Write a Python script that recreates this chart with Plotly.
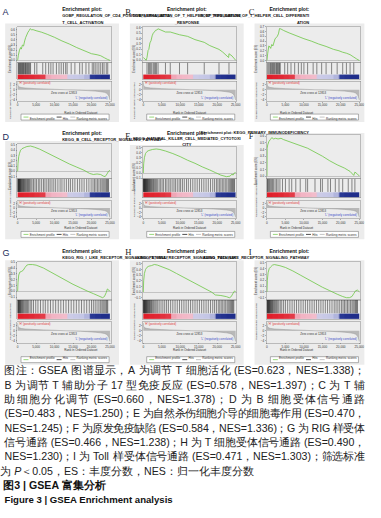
import plotly.graph_objects as go

W, H = 381, 518
S = 4  # render at 4x, then scale the page by 1/4 so tiny fonts are not clamped

# ---------------- data ----------------
panel_letters = ["A", "B", "C", "D", "E", "F", "G", "H", "I"]

title_a = ["Enrichment plot:", "GOBP_REGULATION_OF_CD4_POSITIVE_ALPHA_BETA_", "T_CELL_ACTIVATION"]
title_b = ["Enrichment plot:", "GOBP_REGULATION_OF_T_HELPER_17_TYPE_IMMUNE", "_RESPONSE"]
title_c = ["Enrichment plot:", "GOBP_REGULATION_OF_T_HELPER_CELL_DIFFERENTI", "ATION"]
title_d = ["Enrichment plot:", "KEGG_B_CELL_RECEPTOR_SIGNALING_PATHWAY"]
title_e = ["Enrichment plot:", "KEGG_NATURAL_KILLER_CELL_MEDIATED_CYTOTOXI", "CITY"]
title_f = ["Enrichment plot: KEGG_PRIMARY_IMMUNODEFICIENCY"]
title_g = ["Enrichment plot:", "KEGG_RIG_I_LIKE_RECEPTOR_SIGNALING_PATHWAY"]
title_h = ["Enrichment plot:", "KEGG_T_CELL_RECEPTOR_SIGNALING_PATHWAY"]
title_i = ["Enrichment plot:", "KEGG_TOLL_LIKE_RECEPTOR_SIGNALING_PATHWAY"]

rank_ticks = [0, 5000, 10000, 15000, 20000, 25000]
rank_tick_labels = ["0", "5,000", "10,000", "15,000", "20,000", "25,000"]

# ranked list metric (shared dataset)
metric_rank = [0, 60, 150, 300, 600, 1000, 2000, 3500, 5000, 7000, 9000, 11000, 12853,
               15000, 17000, 19000, 21000, 22500, 23500, 24000, 24400, 24700, 24900, 25000]
metric_value = [3.0, 2.0, 1.5, 1.2, 1.0, 0.85, 0.65, 0.5, 0.4, 0.3, 0.2, 0.1, 0.0,
                -0.12, -0.25, -0.4, -0.6, -0.85, -1.1, -1.4, -1.9, -2.6, -3.6, -4.2]

# colour bar under the hits
colorbar_edges = [0, 1500, 3000, 4500, 6000, 7500, 9000, 10500, 12000, 13500, 15000,
                  16500, 18000, 19500, 21000, 22500, 25000]
colorbar_level = [3.0, 2.9, 2.8, 2.6, 2.4, 1.3, 1.2, 1.1, 1.0, -1.0, -1.1, -1.2, -1.3,
                  -2.6, -2.8, -3.0]

es_rank_a = [0, 200, 500, 800, 1000, 1300, 1600, 1900, 2200, 2500, 2800, 3100, 3400, 3700, 4200,
             5000, 6500, 8000, 10000, 12000, 14000, 16000, 18000, 20000, 21500, 22500, 23500, 24300, 25000]
es_score_a = [0, 0.1, 0.2, 0.25, 0.22, 0.3, 0.28, 0.38, 0.45, 0.5, 0.55, 0.58, 0.62, 0.6, 0.6,
              0.58, 0.55, 0.51, 0.45, 0.38, 0.32, 0.25, 0.19, 0.13, 0.11, 0.09, 0.05, 0.02, 0.0]
hits_a = [150, 300, 450, 600, 800, 950, 1100, 1300, 1450, 1600, 1800, 2000, 2150, 2300, 2500, 2700,
          2900, 3100, 3300, 3500, 4600, 5200, 6800, 7600, 8400, 9000, 9600, 10500, 11200, 11800,
          12400, 13000, 13400, 14500, 15500, 16800, 17500, 18500, 19300, 20200, 20600, 21000,
          21500, 22000, 22500, 23000, 23400, 24000, 24400]

es_rank_b = [0, 800, 1000, 1300, 1500, 1800, 2100, 2400, 2700, 3000, 3300, 3700, 4000, 6000, 7300,
             9800, 12000, 14000, 16500, 18000, 20500, 21500, 23100, 23200, 24000, 25000]
es_score_b = [0.05, 0.0, 0.05, 0.18, 0.2, 0.32, 0.36, 0.45, 0.5, 0.52, 0.55, 0.56, 0.58, 0.52, 0.52,
              0.47, 0.44, 0.38, 0.33, 0.27, 0.2, 0.15, 0.05, 0.12, 0.08, 0.0]
hits_b = [1000, 1400, 1700, 2000, 2300, 2700, 3000, 3300, 3600, 4000, 6000, 7300, 9800, 12000,
          16500, 20500, 23200]

es_rank_c = [0, 200, 500, 800, 1000, 1300, 1600, 1900, 2200, 2500, 2800, 3100, 3400, 3800, 4500,
             6000, 8000, 10000, 12000, 14000, 16000, 18000, 19500, 20500, 21500, 22500, 23500, 24300, 25000]
es_score_c = [0, 0.15, 0.3, 0.28, 0.25, 0.33, 0.3, 0.38, 0.45, 0.47, 0.5, 0.55, 0.66, 0.65, 0.62,
              0.57, 0.51, 0.45, 0.4, 0.34, 0.29, 0.23, 0.2, 0.17, 0.15, 0.12, 0.07, 0.03, 0.0]
hits_c = [200, 500, 800, 1000, 1200, 1500, 1700, 1900, 2100, 2400, 2600, 2800, 3000, 3200, 3400,
          3600, 4800, 5600, 6500, 7500, 8500, 9300, 10000, 11000, 12500, 13500, 14800, 16000,
          17500, 19000, 20500, 21500, 22500, 23500]

es_rank_d = [0, 100, 300, 500, 800, 1200, 1800, 2500, 3500, 4500, 6000, 8000, 10000, 12000, 14000,
             16000, 18000, 19500, 20500, 21500, 22500, 23200, 23700, 24200, 24600, 25000]
es_score_d = [0, 0.15, 0.28, 0.34, 0.4, 0.43, 0.45, 0.47, 0.48, 0.46, 0.42, 0.35, 0.28, 0.21, 0.14,
              0.08, 0.02, -0.04, -0.06, -0.05, -0.06, -0.09, -0.1, -0.05, 0.0, 0.02]
hits_d = [50, 120, 200, 280, 350, 430, 520, 600, 700, 800, 900, 1000, 1150, 1300, 1450, 1600, 1750,
          1900, 2100, 2300, 2500, 2700, 2900, 3100, 3300, 3600, 3900, 4300, 4700, 5100, 5600, 6000,
          6500, 7000, 7400, 7900, 8400, 8800, 9300, 9800, 10300, 10900, 11500, 12000, 12600, 13200,
          13800, 14300, 14900, 15500, 16200, 16800, 17400, 18000, 18700, 19300, 19900, 20400, 20800,
          21200, 21600, 22000, 22400, 22800, 23100, 23400, 23700, 24000, 24200, 24400, 24600]

es_rank_e = [0, 100, 300, 600, 1000, 1500, 2500, 3500, 4500, 6000, 8000, 10000, 12000, 14000, 16000,
             18000, 19500, 21000, 22500, 23500, 24000, 24300, 24600, 25000]
es_score_e = [0, 0.18, 0.3, 0.38, 0.42, 0.44, 0.46, 0.47, 0.46, 0.43, 0.38, 0.32, 0.25, 0.19, 0.12,
              0.06, 0.01, -0.04, -0.07, -0.06, -0.02, -0.04, 0.0, 0.01]
hits_e = [40, 100, 170, 240, 320, 400, 480, 560, 650, 740, 830, 930, 1030, 1150, 1270, 1400, 1550,
          1700, 1850, 2000, 2200, 2400, 2600, 2800, 3000, 3300, 3600, 3900, 4300, 4700, 5100, 5500,
          6000, 6400, 6900, 7300, 7800, 8300, 8700, 9200, 9700, 10100, 10600, 11100, 11700, 12200,
          12800, 13400, 14000, 14600, 15200, 15800, 16400, 17000, 17600, 18200, 18800, 19300, 19800,
          20200, 20600, 21000, 21400, 21800, 22200, 22600, 23000, 23300, 23600, 23900, 24100, 24300,
          24500, 24700]

es_rank_f = [0, 50, 200, 500, 900, 1300, 1800, 2300, 3000, 3800, 4500, 5500, 7000, 9000, 11000,
             13000, 15000, 17000, 19000, 21000, 22500, 23500, 23800, 24500, 25000]
es_score_f = [0, 0.42, 0.47, 0.52, 0.55, 0.58, 0.56, 0.57, 0.56, 0.57, 0.55, 0.53, 0.5, 0.46, 0.42,
              0.36, 0.3, 0.23, 0.17, 0.12, 0.07, 0.01, 0.06, 0.03, 0.0]
hits_f = [100, 200, 400, 700, 900, 1200, 1500, 1800, 2200, 2600, 3000, 3500, 4200, 5000, 6000,
          6700, 7800, 9000, 10500, 11000, 13000, 14500, 15000, 16500, 17200, 18500, 19500, 20500,
          22000, 23000, 23800]

es_rank_g = [0, 100, 300, 600, 1000, 1500, 2000, 2500, 3000, 4000, 5000, 7000, 9000, 11000, 13000,
             15000, 17000, 19000, 20500, 22000, 23000, 23500, 24000, 24300, 24700, 25000]
es_score_g = [0, 0.15, 0.28, 0.33, 0.34, 0.36, 0.41, 0.45, 0.46, 0.46, 0.45, 0.4, 0.33, 0.26, 0.19,
              0.12, 0.06, 0.0, -0.04, -0.08, -0.11, -0.09, -0.02, 0.04, 0.02, 0.0]
hits_g = [60, 150, 250, 350, 450, 560, 680, 800, 950, 1100, 1300, 1500, 1700, 1950, 2200, 2450,
          2700, 3000, 3400, 3800, 4300, 4900, 5500, 6200, 6900, 7500, 8200, 8900, 9600, 10300, 11000,
          11700, 12400, 13100, 13800, 14500, 15200, 15900, 16600, 17300, 18000, 18700, 19400, 20000,
          20500, 21000, 21500, 22000, 22400, 22800, 23100, 23400, 23700, 24000, 24200, 24400]

es_rank_h = [0, 100, 300, 600, 1000, 1500, 2200, 3000, 3800, 5000, 7000, 9000, 11000, 13000, 15000,
             17000, 18500, 19500, 21000, 22500, 23300, 23800, 24300, 24700, 25000]
es_score_h = [0, 0.2, 0.33, 0.4, 0.44, 0.46, 0.47, 0.49, 0.48, 0.45, 0.4, 0.33, 0.26, 0.19, 0.12,
              0.05, 0.0, -0.05, -0.06, -0.08, -0.1, -0.08, -0.02, 0.02, 0.01]
hits_h = [40, 110, 190, 270, 350, 440, 530, 630, 730, 840, 950, 1070, 1200, 1350, 1500, 1650, 1800,
          2000, 2200, 2400, 2650, 2900, 3200, 3500, 3900, 4300, 4800, 5300, 5800, 6300, 6800, 7400,
          8000, 8600, 9200, 9800, 10400, 11000, 11600, 12200, 12800, 13400, 14000, 14600, 15200,
          15800, 16400, 17000, 17600, 18200, 18800, 19300, 19800, 20300, 20700, 21100, 21500, 21900,
          22300, 22700, 23000, 23300, 23600, 23900, 24100, 24300, 24500]

es_rank_i = [0, 100, 300, 600, 1000, 1500, 2000, 2800, 3500, 5000, 7000, 9000, 11000, 13000, 15000,
             17000, 19000, 20500, 21500, 22300, 23000, 23500, 24000, 24500, 25000]
es_score_i = [0, 0.2, 0.33, 0.4, 0.43, 0.46, 0.47, 0.46, 0.45, 0.42, 0.36, 0.29, 0.22, 0.15, 0.08,
              0.02, -0.04, -0.08, -0.1, -0.1, -0.08, -0.03, 0.02, 0.03, 0.0]
hits_i = [50, 130, 210, 300, 390, 480, 580, 690, 800, 920, 1050, 1200, 1350, 1500, 1700, 1900, 2100,
          2350, 2600, 2900, 3200, 3600, 4000, 4500, 5000, 5600, 6200, 6800, 7400, 8000, 8600, 9200,
          9800, 10400, 11000, 11600, 12200, 12800, 13400, 14000, 14600, 15200, 15800, 16400, 17000,
          17600, 18200, 18700, 19200, 19700, 20200, 20600, 21000, 21400, 21800, 22200, 22600, 23000,
          23300, 23600, 23900, 24100, 24300, 24500]

legend_labels = ["Enrichment profile", "Hits", "Ranking metric scores"]
legend_colors = ["#6cc644", "#000000", "#aaaaaa"]
zero_cross_label = "Zero cross at 12853"
pos_label = "'H' (positively correlated)"
neg_label = "'L' (negatively correlated)"

caption_justified = [
    "图注：GSEA 图谱显示，A 为调节 T 细胞活化 (ES=0.623，NES=1.338)；",
    "B 为调节 T 辅助分子 17 型免疫反应 (ES=0.578，NES=1.397)；C 为 T 辅",
    "助细胞分化调节 (ES=0.660，NES=1.378)；D 为 B 细胞受体信号通路",
    "(ES=0.483，NES=1.250)；E 为自然杀伤细胞介导的细胞毒作用 (ES=0.470，",
    "NES=1.245)；F 为原发免疫缺陷 (ES=0.584，NES=1.336)；G 为 RIG 样受体",
    "信号通路 (ES=0.466，NES=1.238)；H 为 T 细胞受体信号通路 (ES=0.490，",
    "NES=1.230)；I 为 Toll 样受体信号通路 (ES=0.471，NES=1.303)；筛选标准",
]
caption_last = "为 <i>P</i>＜0.05，ES：丰度分数，NES：归一化丰度分数"
figure_title_cn = "图3 | GSEA 富集分析"
figure_title_en = "Figure 3 | GSEA Enrichment analysis"

# ---------------- layout geometry (pixels of the 381x518 picture) ----------------
col_plot_l = [17, 144, 269]
col_plot_r = [112, 239, 364]
col_gray_l = [5, 131, 257]
col_gray_r = [120, 246, 368]
col_letter_x = [2, 126, 251]

row_geom = {
    0: dict(es_bot=61, hit_bot=78, rk_top=80, rk_bot=100, leg=116, gray_bot=121),
    1: dict(es_bot=178, hit_bot=197, rk_top=200, rk_bot=218, leg=234, gray_bot=239),
    2: dict(es_bot=300, hit_bot=319, rk_top=322, rk_bot=343, leg=360, gray_bot=365),
}
panel_top = {  # title line y positions, gray top, es top
    "A": ([4, 11, 18], 22, 25), "B": ([4, 11, 18], 22, 25), "C": ([4, 11, 18], 22, 25),
    "D": ([129, 136], 140, 143), "E": ([129, 135, 141], 144, 146), "F": ([129], 132, 134),
    "G": ([251, 257], 260, 262), "H": ([251, 257], 260, 262), "I": ([251, 257], 260, 262),
}

panels = [
    (title_a, es_rank_a, es_score_a, hits_a),
    (title_b, es_rank_b, es_score_b, hits_b),
    (title_c, es_rank_c, es_score_c, hits_c),
    (title_d, es_rank_d, es_score_d, hits_d),
    (title_e, es_rank_e, es_score_e, hits_e),
    (title_f, es_rank_f, es_score_f, hits_f),
    (title_g, es_rank_g, es_score_g, hits_g),
    (title_h, es_rank_h, es_score_h, hits_h),
    (title_i, es_rank_i, es_score_i, hits_i),
]

SANS = "Liberation Sans"
SERIF = "Liberation Serif"
GREEN = legend_colors[0]

# Arial/Liberation Sans advance widths (em)
LATIN_W = {" ": 0.278, "(": 0.333, ")": 0.333, "=": 0.584, ".": 0.278, ",": 0.278, "|": 0.26,
           "'": 0.191, "E": 0.667, "S": 0.667, "N": 0.722, "A": 0.667, "B": 0.667, "C": 0.722,
           "D": 0.722, "F": 0.611, "G": 0.778, "H": 0.722, "I": 0.278, "R": 0.722, "T": 0.611,
           "P": 0.667, "a": 0.556, "b": 0.556, "c": 0.5, "d": 0.556, "e": 0.556, "f": 0.278,
           "g": 0.556, "h": 0.556, "i": 0.222, "j": 0.222, "k": 0.5, "l": 0.222, "m": 0.833,
           "n": 0.556, "o": 0.556, "p": 0.556, "r": 0.333, "s": 0.5, "t": 0.278, "u": 0.556,
           "v": 0.5, "w": 0.722, "x": 0.5, "y": 0.5, "z": 0.5}


def is_wide(c):
    return ord(c) > 0x2E7F


def tok_width(t):
    return sum(1.0 if is_wide(c) else LATIN_W.get(c, 0.556) for c in t)


def px(x):
    return x / W


def py(y):
    return 1 - y / H


def akey(n, a):
    return f"{a}axis" if n == 1 else f"{a}axis{n}"


def aref(n, a):
    return a if n == 1 else f"{a}{n}"


def fnt(size, color="#333", family=SANS):
    return dict(size=size * S, color=color, family=family)


fig = go.Figure()
layout_axes = {}
annotations = []
shapes = []

tickfont = fnt(3.1)
xr = [-150, 25300]
colorscale = [[0, "#1f2d8a"], [0.18, "#3a4aa6"], [0.3, "#c4c6e6"], [0.5, "#f2e6ee"],
              [0.7, "#f2b4c4"], [0.82, "#e6505e"], [1, "#e01e2a"]]
LW = 0.5 * S
LEG_FS = 3.1

for idx, (titles, es_r, es_s, hits) in enumerate(panels):
    letter = panel_letters[idx]
    row, col = divmod(idx, 3)
    g = row_geom[row]
    t_lines, gray_top, es_top = panel_top[letter]
    pl, pr = col_plot_l[col], col_plot_r[col]
    cx = (col_gray_l[col] + col_gray_r[col]) / 2

    shapes.append(dict(type="rect", xref="paper", yref="paper", layer="below",
                       x0=px(col_gray_l[col]), x1=px(col_gray_r[col]),
                       y0=py(g["gray_bot"]), y1=py(gray_top),
                       fillcolor="#ececec", line=dict(width=0)))

    n_es, n_hit, n_rk = 3 * idx + 1, 3 * idx + 2, 3 * idx + 3
    common_x = dict(domain=[px(pl), px(pr)], range=xr, showgrid=False, zeroline=False,
                    showline=True, mirror=True, linecolor="#888", linewidth=LW,
                    tickvals=rank_ticks, ticktext=rank_tick_labels, tickfont=tickfont,
                    ticks="", showticklabels=False, fixedrange=True)
    lo, hi = min(es_s) - 0.04, max(es_s) + 0.04
    ytick = dict(ticks="outside", ticklen=1 * S, tickwidth=0.4 * S, tickcolor="#666")
    layout_axes[akey(n_es, "x")] = dict(common_x, anchor=aref(n_es, "y"))
    layout_axes[akey(n_es, "y")] = dict(domain=[py(g["es_bot"]), py(es_top)], range=[lo, hi],
                                        anchor=aref(n_es, "x"), dtick=0.1, tickformat=".1f",
                                        tickfont=tickfont, showgrid=False, zeroline=True,
                                        zerolinecolor="#999", zerolinewidth=0.6 * S, showline=True,
                                        mirror=True, linecolor="#888", linewidth=LW, **ytick)
    layout_axes[akey(n_hit, "x")] = dict(common_x, anchor=aref(n_hit, "y"))
    layout_axes[akey(n_hit, "y")] = dict(domain=[py(g["hit_bot"]), py(g["es_bot"])], range=[0, 1],
                                         anchor=aref(n_hit, "x"), showticklabels=False,
                                         showgrid=False, zeroline=False, showline=True,
                                         mirror=True, linecolor="#888", linewidth=LW)
    layout_axes[akey(n_rk, "x")] = dict(common_x, anchor=aref(n_rk, "y"), showticklabels=True,
                                        ticklabelstandoff=0, **ytick)
    layout_axes[akey(n_rk, "y")] = dict(domain=[py(g["rk_bot"]), py(g["rk_top"])], range=[-4.7, 3.4],
                                        anchor=aref(n_rk, "x"), dtick=2, tickfont=tickfont,
                                        showgrid=False, zeroline=False, showline=True, mirror=True,
                                        linecolor="#888", linewidth=LW, **ytick)

    fig.add_trace(go.Scatter(x=es_r, y=es_s, mode="lines", line=dict(color=GREEN, width=0.8 * S),
                             xaxis=aref(n_es, "x"), yaxis=aref(n_es, "y"), hoverinfo="skip"))
    hx, hy = [], []
    for h in hits:
        hx += [h, h, None]
        hy += [0.3, 1, None]
    fig.add_trace(go.Scatter(x=hx, y=hy, mode="lines", line=dict(color="#1a1a1a", width=0.5 * S),
                             xaxis=aref(n_hit, "x"), yaxis=aref(n_hit, "y"), hoverinfo="skip"))
    fig.add_trace(go.Heatmap(x=colorbar_edges, y=[0, 0.28], z=[colorbar_level], zmin=-3, zmax=3,
                             colorscale=colorscale, showscale=False,
                             xaxis=aref(n_hit, "x"), yaxis=aref(n_hit, "y"), hoverinfo="skip"))
    fig.add_trace(go.Scatter(x=metric_rank, y=metric_value, mode="lines", fill="tozeroy",
                             fillcolor="#b8b8b8", line=dict(color="#999", width=0.5 * S),
                             xaxis=aref(n_rk, "x"), yaxis=aref(n_rk, "y"), hoverinfo="skip"))

    xr_ref, yr_ref = aref(n_rk, "x"), aref(n_rk, "y")
    annotations += [
        dict(x=12500, y=-0.35, xref=xr_ref, yref=yr_ref, text=zero_cross_label, showarrow=False,
             font=fnt(2.9), yanchor="top", borderpad=0),
        dict(x=300, y=3.4, xref=xr_ref, yref=yr_ref, text=pos_label, showarrow=False, xanchor="left",
             yanchor="top", font=fnt(2.9, "#e03838"), borderpad=0),
        dict(x=20000, y=-3.2, xref=xr_ref, yref=yr_ref, text=neg_label, showarrow=False,
             font=fnt(2.9, "#3848c8"), borderpad=0),
    ]

    annotations += [
        dict(x=px(pl - 9), y=py((es_top + g["es_bot"]) / 2), xref="paper", yref="paper",
             text="Enrichment score (ES)", textangle=-90, showarrow=False, font=fnt(2.8),
             borderpad=0),
        dict(x=px(pl - 9), y=py((g["es_bot"] + g["rk_bot"]) / 2), xref="paper", yref="paper",
             text="Ranked list metric (Signal2Noise)", textangle=-90, showarrow=False, font=fnt(2.5),
             borderpad=0),
        dict(x=px((pl + pr) / 2), y=py(g["rk_bot"] + 9.5), xref="paper", yref="paper",
             text="Rank in Ordered Dataset", showarrow=False, font=fnt(3.0), borderpad=0),
    ]

    # legend box: white rectangle, three short coloured lines and three labels
    box_l, box_r = pl + 4, pr - 2
    ly = g["leg"]
    shapes.append(dict(type="rect", xref="paper", yref="paper", x0=px(box_l), x1=px(box_r),
                       y0=py(ly + 3), y1=py(ly - 3), fillcolor="white", layer="below",
                       line=dict(color="#666", width=0.5 * S)))
    seg = 5
    label_w = [tok_width(t) * LEG_FS for t in legend_labels]
    content = sum(label_w) + 3 * (seg + 1)
    gap = (box_r - box_l - content) / 4
    x = box_l + gap
    for lab, lw_, colr in zip(legend_labels, label_w, legend_colors):
        shapes.append(dict(type="line", xref="paper", yref="paper", x0=px(x), x1=px(x + seg),
                           y0=py(ly), y1=py(ly), line=dict(color=colr, width=0.7 * S)))
        annotations.append(dict(x=px(x + seg + 1), y=py(ly), xref="paper", yref="paper",
                                text=lab, showarrow=False, xanchor="left", borderpad=0,
                                font=fnt(LEG_FS, "#333")))
        x += seg + 1 + lw_ + gap

    for k, (line, ty) in enumerate(zip(titles, t_lines)):
        size = 5.0 if (k == 0 and len(titles) > 1) else 4.0
        annotations.append(dict(x=px(cx), y=py(ty), xref="paper", yref="paper",
                                text=f"<b>{line}</b>", showarrow=False, borderpad=0,
                                font=fnt(size, "#111")))
    serif = col != 0
    annotations.append(dict(x=px(col_letter_x[col]), y=py(t_lines[0] + 1), xref="paper", yref="paper",
                            text=letter, showarrow=False, xanchor="left", borderpad=0,
                            font=fnt(8.5 if serif else 9, "#222" if serif else "#1a2a5a",
                                     SERIF if serif else SANS)))

# ---------------- caption (justified lines) ----------------
CAP_SIZE = 10.6


def tokenize(line):
    toks, spaced, cur, space_before = [], [], "", False
    for c in line:
        if c == " ":
            if cur:
                toks.append(cur)
                spaced.append(space_before)
                cur = ""
            space_before = True
            continue
        if is_wide(c):
            if cur:
                toks.append(cur)
                spaced.append(space_before)
                space_before = False
                cur = ""
            toks.append(c)
            spaced.append(space_before)
            space_before = False
        else:
            cur += c
    if cur:
        toks.append(cur)
        spaced.append(space_before)
    return toks, spaced


cap_x0, cap_x1 = 4, 368
cap_y0, cap_dy = 377, 14.45
for k, line in enumerate(caption_justified):
    toks, spaced = tokenize(line)
    widths = [tok_width(t) * CAP_SIZE for t in toks]
    nat_gaps = [LATIN_W[" "] * CAP_SIZE if s else 0 for s in spaced[1:]]
    natural = sum(widths) + sum(nat_gaps)
    extra = max(0.0, (cap_x1 - cap_x0 - natural) / max(1, len(toks) - 1))
    x = cap_x0
    yv = py(cap_y0 + k * cap_dy)
    for j, t in enumerate(toks):
        if j > 0:
            x += nat_gaps[j - 1] + extra
        annotations.append(dict(x=px(x), y=yv, xref="paper", yref="paper", text=t,
                                showarrow=False, xanchor="left", borderpad=0,
                                font=fnt(CAP_SIZE, "#222")))
        x += widths[j]

annotations.append(dict(x=px(cap_x0), y=py(cap_y0 + 7 * cap_dy), xref="paper", yref="paper",
                        text=caption_last, showarrow=False, xanchor="left", borderpad=0,
                        font=fnt(CAP_SIZE, "#222")))
annotations.append(dict(x=px(cap_x0), y=py(cap_y0 + 8 * cap_dy), xref="paper", yref="paper",
                        text=f"<b>{figure_title_cn}</b>", showarrow=False, xanchor="left",
                        borderpad=0, font=fnt(CAP_SIZE, "#111")))
annotations.append(dict(x=px(cap_x0), y=py(cap_y0 + 9 * cap_dy), xref="paper", yref="paper",
                        text=f"<b>{figure_title_en}</b>", showarrow=False, xanchor="left",
                        borderpad=0, font=fnt(9.6, "#111")))

fig.update_layout(width=W * S, height=H * S, margin=dict(l=0, r=0, t=0, b=0), showlegend=False,
                  paper_bgcolor="white", plot_bgcolor="white",
                  annotations=annotations, shapes=shapes, **layout_axes)

scale_js = ("var d=document.getElementById('{plot_id}');"
            "d.style.transform='scale(" + str(1 / S) + ")';d.style.transformOrigin='0 0';"
            "document.body.style.margin='0';document.body.style.overflow='hidden';"
            "document.documentElement.style.overflow='hidden';")
fig.write_html("out.html", post_script=scale_js, config={"displayModeBar": False})
